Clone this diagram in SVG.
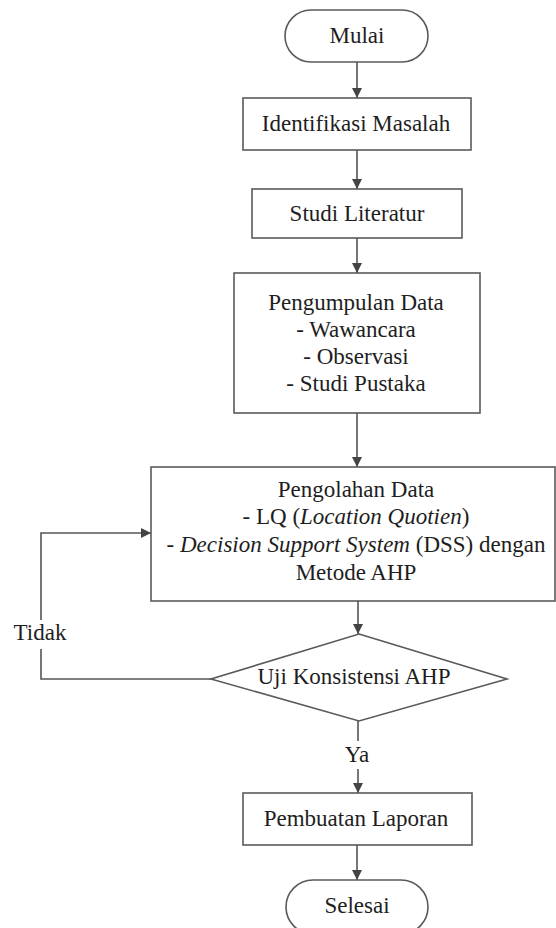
<svg xmlns="http://www.w3.org/2000/svg" width="556" height="928" viewBox="0 0 556 928">
<style>
.shape{fill:#ffffff;stroke:#5a5a5a;stroke-width:1.6}
.con{fill:none;stroke:#555555;stroke-width:1.6}
text{font-family:"Liberation Serif","Times New Roman",serif;font-size:23px;fill:#1e1e1e;text-anchor:middle}
.it{font-style:italic}
</style>
<defs>
<marker id="arr" viewBox="0 0 10 10" refX="10" refY="5" markerWidth="10" markerHeight="10" markerUnits="userSpaceOnUse" orient="auto">
<path d="M0,0 L10,5 L0,10 Z" fill="#444444"/>
</marker>
</defs>
<rect width="556" height="928" fill="#ffffff"/>
<g id="connectors">
<line class="con" x1="357" y1="62" x2="357" y2="98" marker-end="url(#arr)"/>
<line class="con" x1="357" y1="150" x2="357" y2="189" marker-end="url(#arr)"/>
<line class="con" x1="357" y1="238" x2="357" y2="273" marker-end="url(#arr)"/>
<line class="con" x1="357" y1="413" x2="357" y2="467" marker-end="url(#arr)"/>
<line class="con" x1="358" y1="601" x2="358" y2="634" marker-end="url(#arr)"/>
<line class="con" x1="358" y1="721" x2="358" y2="741"/>
<line class="con" x1="358" y1="769" x2="358" y2="793" marker-end="url(#arr)"/>
<line class="con" x1="357" y1="845" x2="357" y2="880" marker-end="url(#arr)"/>
<polyline class="con" points="211,679 41,679 41,649"/>
<polyline class="con" points="41,620 41,533 151,533" marker-end="url(#arr)"/>
<text x="40" y="640">Tidak</text>
<text x="357" y="762">Ya</text>
</g>
<g id="mulai">
<rect class="shape" x="285" y="10" width="143" height="52" rx="26" ry="26"/>
<text x="357" y="43">Mulai</text>
</g>
<g id="identifikasi">
<rect class="shape" x="243" y="98" width="228" height="52"/>
<text x="356" y="131">Identifikasi Masalah</text>
</g>
<g id="studi-literatur">
<rect class="shape" x="252" y="189" width="210" height="49"/>
<text x="357" y="221">Studi Literatur</text>
</g>
<g id="pengumpulan">
<rect class="shape" x="234" y="273" width="246" height="140"/>
<text x="356" y="310">Pengumpulan Data</text>
<text x="356" y="337">- Wawancara</text>
<text x="356" y="364">- Observasi</text>
<text x="356" y="391">- Studi Pustaka</text>
</g>
<g id="pengolahan">
<rect class="shape" x="151" y="467" width="404" height="134"/>
<text x="356" y="497">Pengolahan Data</text>
<text x="356" y="524">- LQ (<tspan class="it">Location Quotien</tspan>)</text>
<text x="356" y="552">- <tspan class="it">Decision Support System</tspan> (DSS) dengan</text>
<text x="356" y="580">Metode AHP</text>
</g>
<g id="uji">
<polygon class="shape" points="359,634 507,679 359,721 211,679"/>
<text x="354" y="684">Uji Konsistensi AHP</text>
</g>
<g id="pembuatan">
<rect class="shape" x="243" y="793" width="229" height="52"/>
<text x="356" y="826">Pembuatan Laporan</text>
</g>
<g id="selesai">
<rect class="shape" x="286" y="880" width="142" height="54" rx="27" ry="27"/>
<text x="357" y="913">Selesai</text>
</g>
</svg>
